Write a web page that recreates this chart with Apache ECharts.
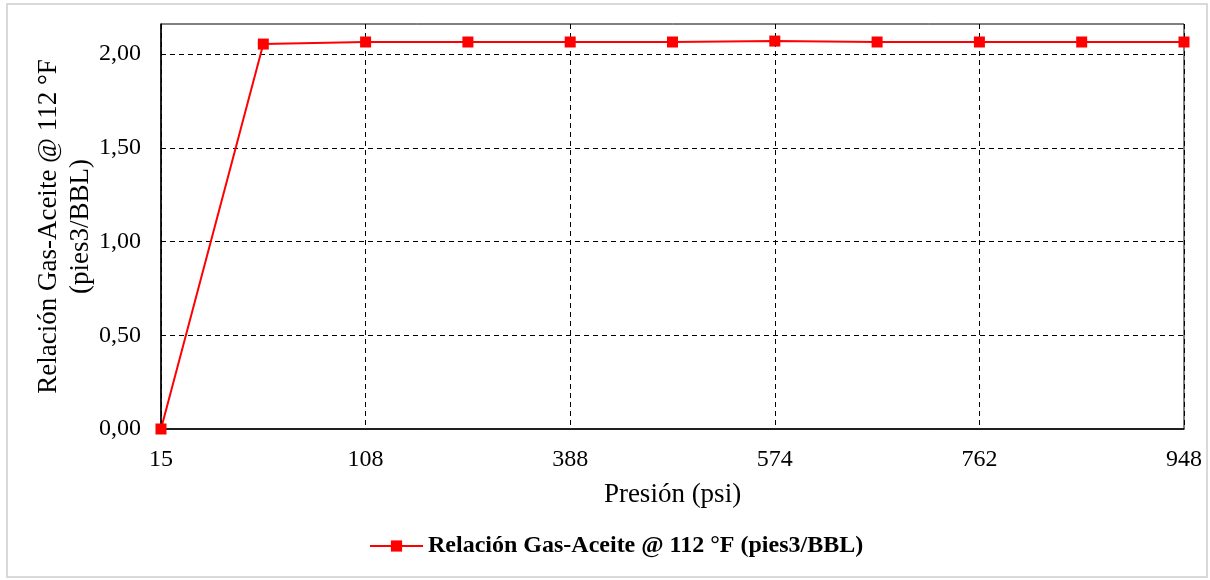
<!DOCTYPE html>
<html>
<head>
<meta charset="utf-8">
<script src="https://cdn.jsdelivr.net/npm/echarts@6/dist/echarts.min.js"></script>
<style>
html,body{margin:0;padding:0;background:#fff;}
#frame{position:absolute;left:6px;top:3px;width:1202px;height:575px;border:2px solid #d9d9d9;box-sizing:border-box;}
#chart{position:absolute;left:0;top:0;width:1210px;height:580px;}
</style>
</head>
<body>
<div id="frame"></div>
<div id="chart"></div>
<script>
var categories = ['15','61','108','248','388','481','574','668','762','855','948'];
var ratioValues = [0, 2.053, 2.064, 2.064, 2.064, 2.064, 2.069, 2.064, 2.064, 2.064, 2.064];
var seriesName = 'Relación Gas-Aceite @ 112 °F (pies3/BBL)';
var yTicks = [0, 0.5, 1.0, 1.5, 2.0];

var chart = echarts.init(document.getElementById('chart'));
var font = '"Liberation Serif", "Times New Roman", serif';
chart.setOption({
  animation: false,
  grid: {left: 161, right: 26, top: 24, bottom: 151, show: true, borderColor: '#000', borderWidth: 1},
  legend: {
    bottom: 17, left: 364, itemWidth: 53, itemHeight: 14, itemGap: 6,
    textStyle: {fontFamily: font, fontSize: 24, fontWeight: 'bold', color: '#000'},
    data: [seriesName]
  },
  xAxis: {
    type: 'category', data: categories, boundaryGap: false,
    name: 'Presión (psi)', nameLocation: 'middle', nameGap: 52, nameMoveOverlap: false,
    nameTextStyle: {fontFamily: font, fontSize: 27, color: '#000'},
    axisLine: {lineStyle: {color: '#000', width: 1.5}},
    axisTick: {show: false},
    axisLabel: {interval: 1, fontFamily: font, fontSize: 24, color: '#000', margin: 19},
    splitLine: {show: true, interval: 1, lineStyle: {color: '#000', type: [5, 4], width: 1}}
  },
  yAxis: {
    type: 'value', min: 0, max: 2.16, interval: 0.5,
    name: 'Relación Gas-Aceite @ 112 °F\n(pies3/BBL)', nameLocation: 'middle', nameGap: 64, nameRotate: 90,
    nameMoveOverlap: false,
    nameTextStyle: {fontFamily: font, fontSize: 27, color: '#000', lineHeight: 32},
    axisLine: {show: true, lineStyle: {color: '#000', width: 1.5}},
    axisTick: {show: false},
    axisLabel: {fontFamily: font, fontSize: 24, color: '#000', margin: 20, showMaxLabel: false,
      formatter: function(v){ return yTicks.indexOf(v) >= 0 ? v.toFixed(2).replace('.', ',') : ''; }},
    splitLine: {show: true, showMaxLine: false, showMinLine: false, lineStyle: {color: '#000', type: [5, 4], width: 1}}
  },
  series: [{
    name: seriesName, type: 'line', data: ratioValues,
    symbol: 'rect', symbolSize: 11,
    lineStyle: {color: '#ff0000', width: 2},
    itemStyle: {color: '#ff0000'}
  }]
});
</script>
</body>
</html>
